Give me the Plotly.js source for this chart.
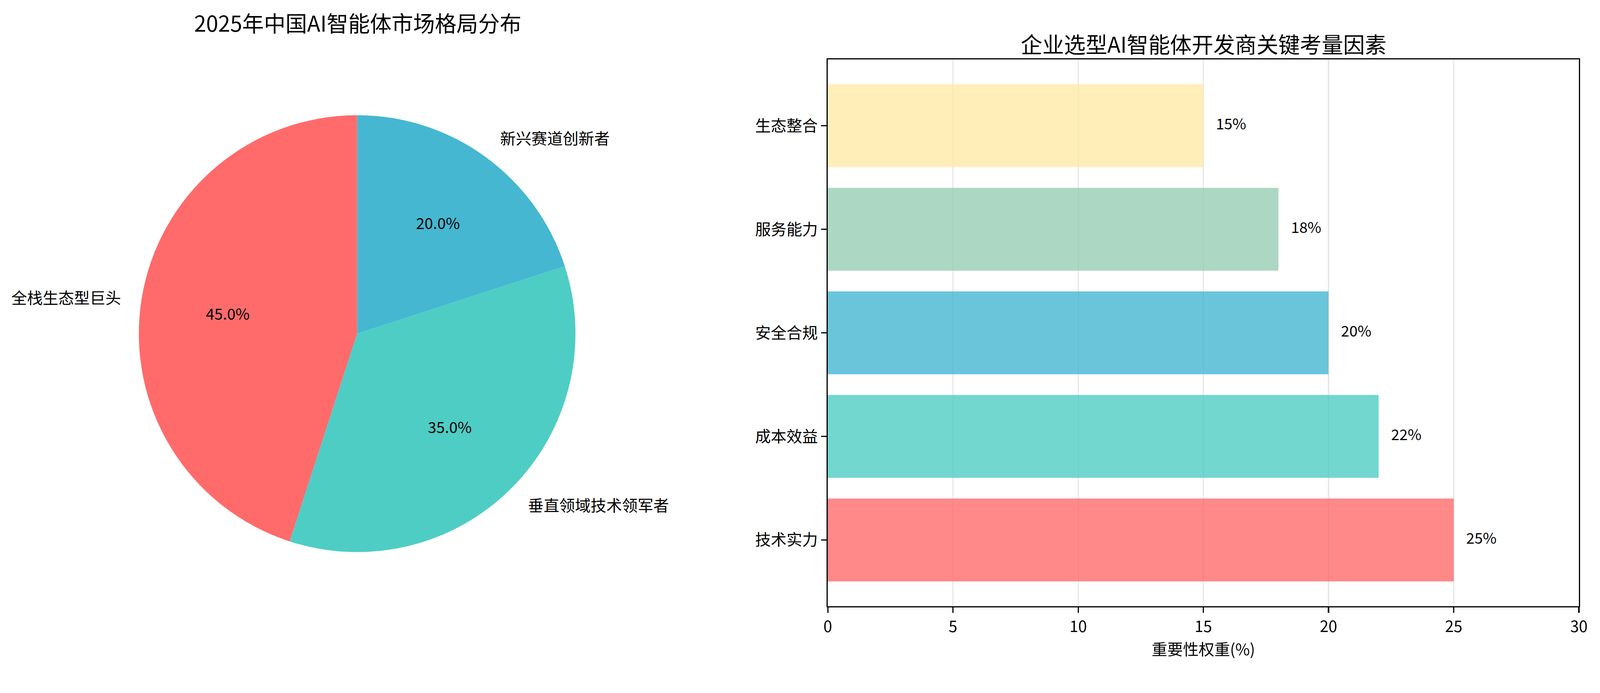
<!DOCTYPE html>
<html>
<head>
<meta charset="utf-8">
<script src="https://cdn.plot.ly/plotly-3.0.1.min.js"></script>
<style>
html, body { margin: 0; padding: 0; background: #fff; overflow: hidden; }
</style>
</head>
<body>
<div id="chart_area"></div>
<script>
// 市场格局 (pie)
var pieLabels = ['全栈生态型巨头', '垂直领域技术领军者', '新兴赛道创新者'];
var pieValues = [45, 35, 20];
var pieColors = ['#FF6B6B', '#4ECDC4', '#45B7D1'];

// 关键考量因素 (bars, bottom to top)
var factors = ['技术实力', '成本效益', '安全合规', '服务能力', '生态整合'];
var weights = [25, 22, 20, 18, 15];
var barColors = ['#FF6B6B', '#4ECDC4', '#45B7D1', '#96CEB4', '#FFEAA7'];
var xTicks = [0, 5, 10, 15, 20, 25, 30];

var FONT = 'Noto Sans CJK SC, DejaVu Sans, sans-serif';
var clear = pieLabels.map(function () { return 'rgba(0,0,0,0)'; });

// size everything from the viewport width, keep the reference aspect (4286x1773)
var W = window.innerWidth || 4286;
var H = W * 1773 / 4286;
var s = W / 4286;
function px(v) { return v * s; }

var chartDiv = document.getElementById('chart_area');
chartDiv.style.width = W + 'px';
chartDiv.style.height = H + 'px';

// first slice starts at 12 o'clock and runs counterclockwise
var rot = -pieValues[0] / pieValues.reduce(function (a, b) { return a + b; }, 0) * 360;

var pieDomain = {x: [0.0879, 0.3645], y: [0.099, 0.898]};

var data = [
    // coloured slices, no text
    {
        type: 'pie',
        labels: pieLabels,
        values: pieValues,
        sort: false,
        direction: 'counterclockwise',
        rotation: rot,
        domain: pieDomain,
        marker: {colors: pieColors, line: {width: 0}},
        textinfo: 'none',
        hoverinfo: 'none',
        showlegend: false
    },
    // labels sit a bit outside the rim (bigger invisible pie)
    {
        type: 'pie',
        labels: pieLabels,
        values: pieValues,
        sort: false,
        direction: 'counterclockwise',
        rotation: rot,
        domain: {x: [0.0785, 0.374], y: [0.0717, 0.9255]},
        marker: {colors: clear, line: {width: 0}},
        textinfo: 'label',
        textposition: 'outside',
        outsidetextfont: {family: FONT, size: px(42), color: '#000'},
        hoverinfo: 'none',
        showlegend: false
    },
    // percentages inside
    {
        type: 'pie',
        labels: pieLabels,
        values: pieValues,
        sort: false,
        direction: 'counterclockwise',
        rotation: rot,
        hole: 0.2,
        domain: pieDomain,
        marker: {colors: clear, line: {width: 0}},
        texttemplate: '%{percent:.1%}',
        textposition: 'inside',
        insidetextorientation: 'horizontal',
        insidetextfont: {family: FONT, size: px(41), color: '#000'},
        hoverinfo: 'none',
        showlegend: false
    },
    {
        type: 'bar',
        orientation: 'h',
        x: weights,
        y: factors,
        width: 0.8,
        opacity: 0.8,
        marker: {color: barColors, line: {width: 0}},
        hoverinfo: 'none',
        showlegend: false,
        xaxis: 'x',
        yaxis: 'y'
    },
    {
        type: 'scatter',
        mode: 'text',
        x: weights.map(function (v) { return v + 0.5; }),
        y: factors,
        text: weights.map(function (v) { return v + '%'; }),
        textposition: 'middle right',
        textfont: {family: FONT, size: px(40), color: '#000'},
        cliponaxis: false,
        hoverinfo: 'none',
        showlegend: false,
        xaxis: 'x',
        yaxis: 'y'
    }
];

var axisFont = {family: FONT, size: px(42), color: '#000'};

var layout = {
    width: W,
    height: H,
    margin: {l: 0, r: px(56), t: px(159), b: px(150)},
    paper_bgcolor: '#fff',
    plot_bgcolor: '#fff',
    font: {family: FONT, size: px(42), color: '#000'},
    xaxis: {
        domain: [0.5243, 1],
        range: [0, 30],
        tickvals: xTicks,
        ticktext: xTicks.map(String),
        showgrid: true,
        gridcolor: 'rgba(176,176,176,0.3)',
        gridwidth: px(3.3),
        zeroline: false,
        showline: true,
        linecolor: '#000',
        linewidth: px(3.3),
        mirror: true,
        ticks: 'outside',
        ticklen: px(15),
        tickwidth: px(3.3),
        tickcolor: '#000',
        tickfont: axisFont,
        automargin: false,
        title: {text: '重要性权重(%)', font: axisFont, standoff: px(6)}
    },
    yaxis: {
        domain: [0, 1],
        type: 'category',
        categoryorder: 'array',
        categoryarray: factors,
        range: [-0.64, 4.64],
        showgrid: false,
        zeroline: false,
        showline: true,
        linecolor: '#000',
        linewidth: px(3.3),
        mirror: true,
        ticks: 'outside',
        ticklen: px(15),
        tickwidth: px(3.3),
        tickcolor: '#000',
        ticklabelstandoff: px(8),
        tickfont: axisFont,
        automargin: false
    },
    annotations: [
        {
            text: '2025年中国AI智能体市场格局分布',
            xref: 'paper', yref: 'paper',
            x: 0.2267, y: 1.0676,
            xanchor: 'center', yanchor: 'middle',
            showarrow: false,
            font: {family: FONT, size: px(58), color: '#000'}
        },
        {
            text: '企业选型AI智能体开发商关键考量因素',
            xref: 'paper', yref: 'paper',
            x: 0.7622, y: 1.0294,
            xanchor: 'center', yanchor: 'middle',
            showarrow: false,
            font: {family: FONT, size: px(58), color: '#000'}
        }
    ]
};

var config = {
    displayModeBar: false,
    staticPlot: true,
    responsive: false
};

Plotly.newPlot('chart_area', data, layout, config);
</script>
</body>
</html>
